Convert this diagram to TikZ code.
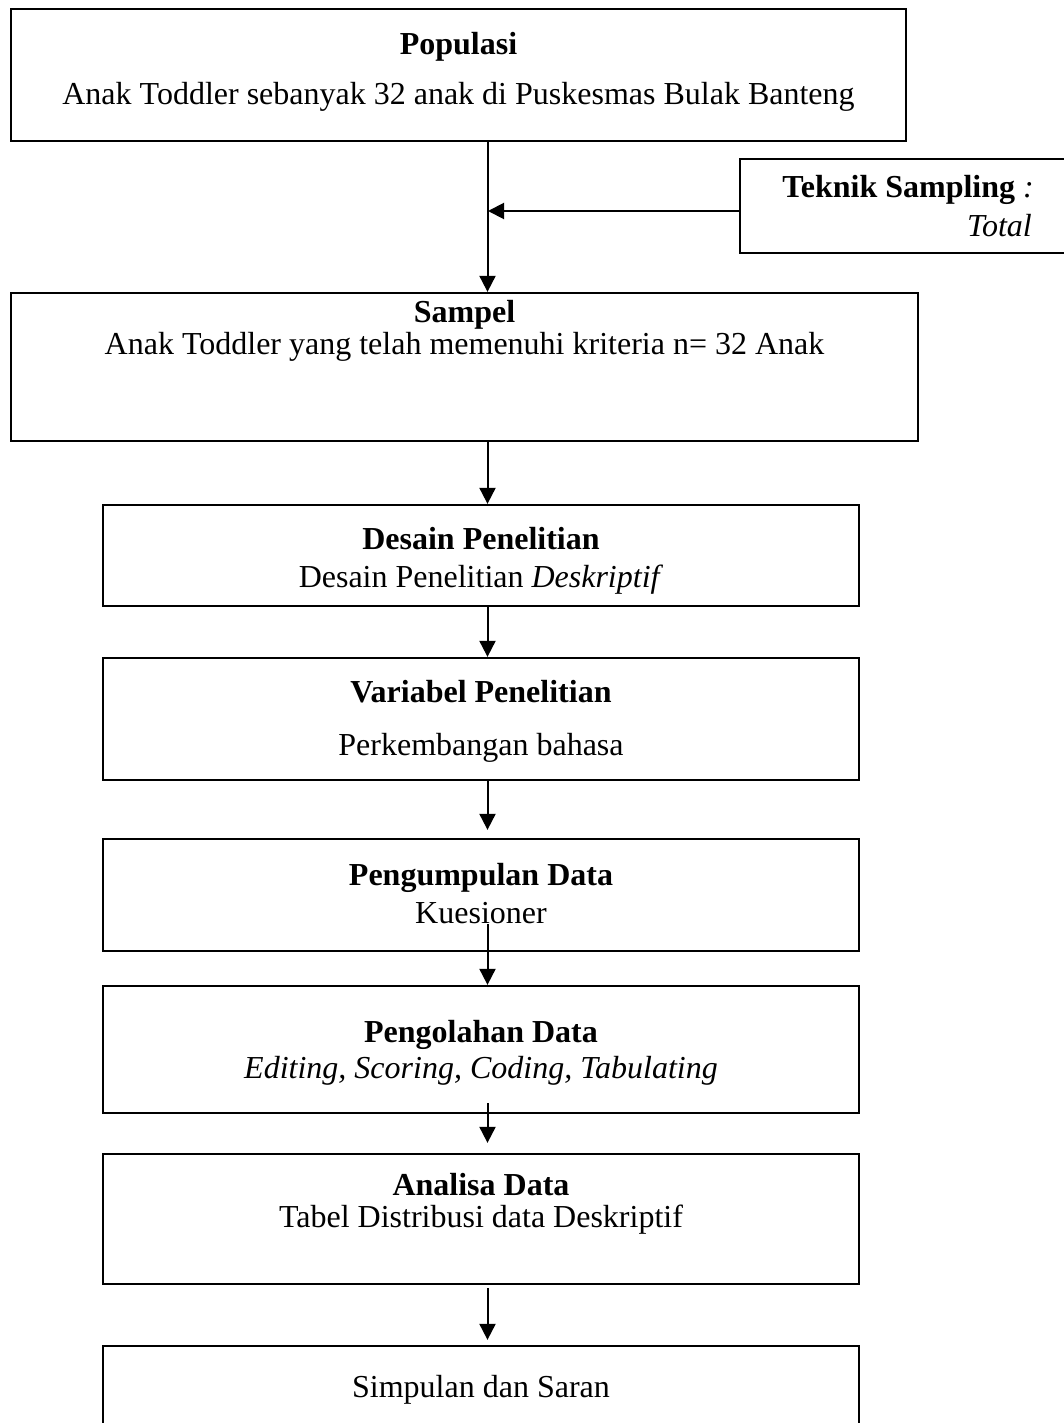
\documentclass[tikz,border=0pt]{standalone}
\usepackage{fontspec}
\setmainfont{Liberation Serif}
\usetikzlibrary{arrows.meta}

\begin{document}
\begin{tikzpicture}[x=1pt,y=-1pt,
  box/.style={draw=black, line width=2.3pt, inner sep=0pt, fill=none},
  lbl/.style={inner sep=0pt, font=\fontsize{32}{38}\selectfont, text=black},
  hd/.style={lbl, font=\fontsize{32}{38}\selectfont\bfseries},
  arr/.style={draw=black, line width=2pt, -{Triangle[length=16pt,width=16pt]}}]
\useasboundingbox (0,0) rectangle (1064,1423);
\fill[white] (0,0) rectangle (1064,1423);

% boxes
\node[box, minimum width=895pt, minimum height=132pt] (pop)  at (458.5,75) {};
\node[box, minimum width=340pt, minimum height=94pt]  (tek)  at (910,206) {};
\node[box, minimum width=907pt, minimum height=148pt] (sam)  at (464.5,367) {};
\node[box, minimum width=756pt, minimum height=101pt] (des)  at (481,555.5) {};
\node[box, minimum width=756pt, minimum height=122pt] (var)  at (481,719) {};
\node[box, minimum width=756pt, minimum height=112pt] (kum)  at (481,895) {};
\node[box, minimum width=756pt, minimum height=127pt] (olah) at (481,1049.5) {};
\node[box, minimum width=756pt, minimum height=130pt] (ana)  at (481,1219) {};
\node[box, minimum width=756pt, minimum height=100pt] (simp) at (481,1396) {};

% texts
\node[hd]  (popT) at (458.5,47) {Populasi};
\node[lbl] (popS) at (458.5,97) {Anak Toddler sebanyak 32 anak di Puskesmas Bulak Banteng};
\node[lbl, anchor=east] (tekT) at (1034,190) {\textbf{Teknik Sampling} \textit{:}};
\node[lbl, anchor=east] (tekS) at (1032,226) {\textit{Total}};
\node[hd]  (samT) at (464.5,315) {Sampel};
\node[lbl] (samS) at (464.5,347) {Anak Toddler yang telah memenuhi kriteria n= 32 Anak};
\node[hd]  (desT) at (481,539) {Desain Penelitian};
\node[lbl] (desS) at (481,580) {Desain Penelitian \textit{Deskriptif}};
\node[hd]  (varT) at (481,692) {Variabel Penelitian};
\node[lbl] (varS) at (481,748) {Perkembangan bahasa};
\node[hd]  (kumT) at (481,878) {Pengumpulan Data};
\node[lbl] (kumS) at (481,913) {Kuesioner};
\node[hd]  (olahT) at (481,1035) {Pengolahan Data};
\node[lbl] (olahS) at (481,1071) {\textit{Editing, Scoring, Coding, Tabulating}};
\node[hd]  (anaT) at (481,1185) {Analisa Data};
\node[lbl] (anaS) at (481,1220) {Tabel Distribusi data Deskriptif};
\node[lbl] (simpT) at (481,1390) {Simpulan dan Saran};

% connectors
\coordinate (ax) at (487.5,0);
\coordinate (join) at (488,211);
\draw[arr] (pop.south -| ax) -- (sam.north -| ax);
\draw[arr] (tek.west |- join) -- (join);
\draw[arr] (sam.south -| ax) -- (des.north -| ax);
\draw[arr] (des.south -| ax) -- (var.north -| ax);
\draw[arr] (var.south -| ax) -- ([yshift=8pt]kum.north -| ax);
\draw[arr] ([yshift=28pt]kum.south -| ax) -- (olah.north -| ax);
\draw[arr] ([yshift=11pt]olah.south -| ax) -- ([yshift=10pt]ana.north -| ax);
\draw[arr] ([yshift=-3pt]ana.south -| ax) -- ([yshift=5pt]simp.north -| ax);
\end{tikzpicture}
\end{document}
